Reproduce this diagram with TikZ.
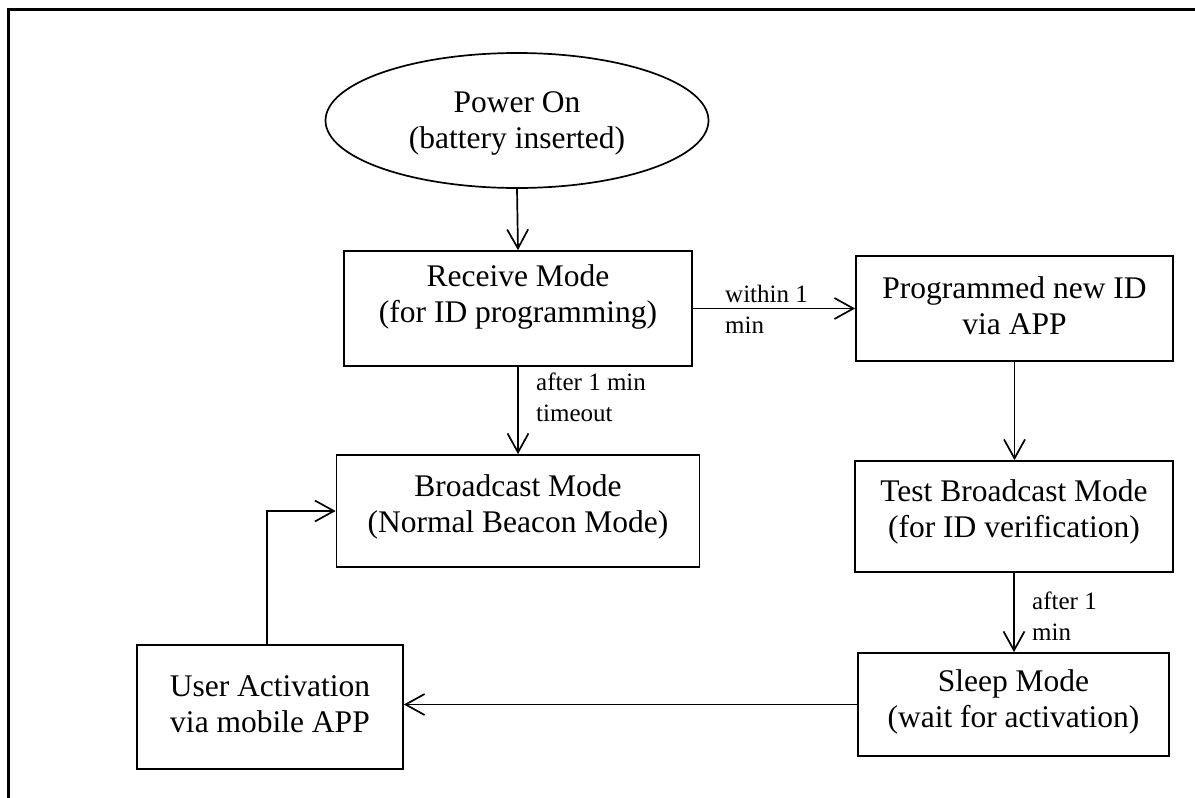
\documentclass[tikz,border=0pt]{standalone}
\usepackage{fontspec}
\setmainfont{Liberation Serif}
\usetikzlibrary{arrows.meta,shapes.geometric}
\tikzset{
  box/.style={draw, line width=1.7pt, rectangle, inner sep=0pt},
  oval/.style={draw, line width=1.7pt, ellipse, inner sep=0pt},
  txt/.style={align=center, inner sep=0pt, font=\fontsize{31.5pt}{36pt}\selectfont},
  lbl/.style={align=left, inner sep=0pt, font=\fontsize{25pt}{31pt}\selectfont},
  arr/.style={line width=1.7pt, -{Straight Barb[length=19pt,width=21pt,line width=1.7pt]}},
  frame/.style={line width=3pt}
}
\begin{document}
\begin{tikzpicture}[x=1pt,y=-1pt]
\useasboundingbox (0,0) rectangle (1195,798);
% frame (top and left only)
\coordinate (fTR) at (1195,9);
\coordinate (fTL) at (8,9);
\coordinate (fBL) at (8,798);
\draw[frame] (fTR) -- (fTL) -- (fBL);

% nodes
\node[oval, minimum width=383pt, minimum height=135pt] (pow) at (517,120.5) {};
\node[txt] (powT) at (517,123) {Power On\\(battery inserted)};

\node[box, minimum width=348pt, minimum height=115pt] (rec) at (518,308.5) {};
\node[txt] (recT) at (518,297) {Receive Mode\\(for ID programming)};

\node[box, minimum width=317pt, minimum height=105pt] (prog) at (1014.5,308.5) {};
\node[txt] (progT) at (1014.5,306) {Programmed new ID\\via APP};

\node[box, minimum width=363pt, minimum height=112pt] (brd) at (518,511) {};
\node[txt] (brdT) at (518,507) {Broadcast Mode\\(Normal Beacon Mode)};

\node[box, minimum width=318pt, minimum height=111pt] (test) at (1014,516.5) {};
\node[txt] (testT) at (1014,512) {Test Broadcast Mode\\(for ID verification)};

\node[box, minimum width=311pt, minimum height=103pt] (sleep) at (1013.5,704.5) {};
\node[txt] (sleepT) at (1013.5,702) {Sleep Mode\\(wait for activation)};

\node[box, minimum width=266pt, minimum height=124pt] (user) at (270,707) {};
\node[txt] (userT) at (270,704) {User Activation\\via mobile APP};

% connectors
\draw[arr] (pow.south) -- (rec.north);
\draw[arr] (rec.east) -- (prog.west);
\draw[arr] (rec.south) -- (brd.north);
\draw[arr] (prog.south) -- (prog.south |- test.north);
\draw[arr] (test.south) -- (test.south |- sleep.north);
\draw[arr] (sleep.west) -- (sleep.west -| user.east);
\coordinate (uUp) at (267,0);
\draw[arr] (uUp |- user.north) |- (brd.west);

% labels
\node[lbl, anchor=west] (l1) at (725,309) {within 1\\min};
\node[lbl, anchor=west] (l2) at (536,397) {after 1 min\\timeout};
\node[lbl, anchor=west] (l3) at (1032,616) {after 1\\min};
\end{tikzpicture}
\end{document}
